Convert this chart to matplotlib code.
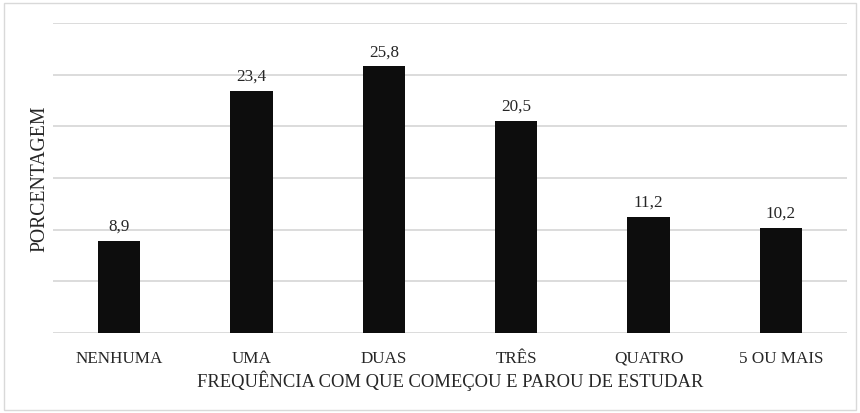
import numpy as np
from matplotlib import pyplot as plt
from matplotlib.patches import Rectangle

categories = ["NENHUMA", "UMA", "DUAS", "TRÊS", "QUATRO", "5 OU MAIS"]
values = [8.9, 23.4, 25.8, 20.5, 11.2, 10.2]
value_labels = ["8,9", "23,4", "25,8", "20,5", "11,2", "10,2"]

plt.rcParams['font.family'] = ['Liberation Serif', 'DejaVu Serif']

fig = plt.figure(figsize=(8.6, 4.14), dpi=100)
ax = fig.add_axes([0.0616, 0.193, 0.9234, 0.749])

x = np.arange(len(categories))
bars = ax.bar(x, values, width=0.32, color='#0d0d0d', zorder=3)
for b, lab in zip(bars, value_labels):
    ax.text(b.get_x() + b.get_width() / 2, b.get_height() + 0.7, lab,
            ha='center', va='bottom', fontsize=12.3, color='#262626')

ax.set_xlim(-0.5, len(categories) - 0.5)
ax.set_ylim(0, 30)
ax.set_yticks(np.arange(0, 31, 5))
ax.set_yticklabels([])
ax.yaxis.grid(True, color='#d9d9d9', linewidth=1.3, zorder=0)
ax.tick_params(axis='both', length=0)
ax.tick_params(axis='x', pad=12)
ax.set_xticks(x)
ax.set_xticklabels(categories, fontsize=12.3, color='#262626')
for s in ax.spines.values():
    s.set_visible(False)

ax.set_xlabel("FREQUÊNCIA COM QUE COMEÇOU E PAROU DE ESTUDAR",
              fontsize=13.4, color='#262626', labelpad=3)
fig.text(40 / 860, 1 - 179 / 414, "PORCENTAGEM", rotation=90,
         ha='center', va='center', fontsize=14.2, color='#262626')

fig.patches.append(Rectangle((4 / 860, 3 / 414), 852 / 860, 407 / 414,
                             transform=fig.transFigure, fill=False,
                             edgecolor='#d9d9d9', linewidth=1))

fig.savefig("out.png", dpi=100)
